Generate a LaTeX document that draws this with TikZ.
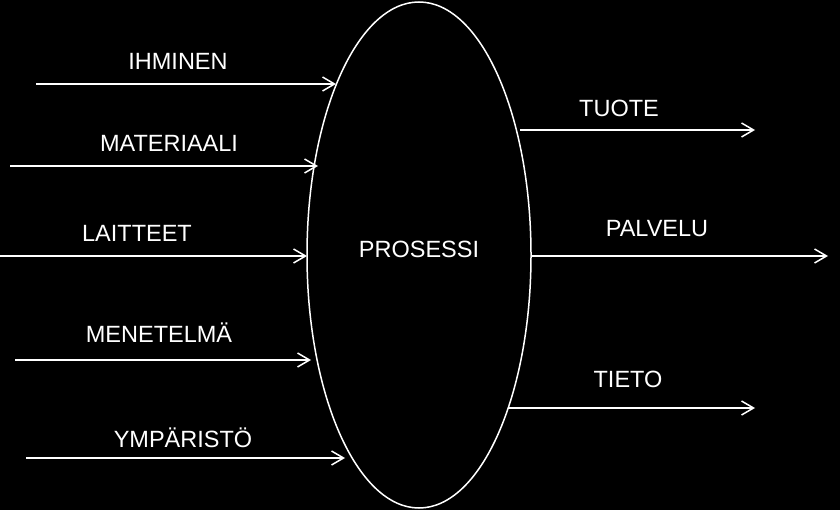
\documentclass[tikz,border=0pt]{standalone}
\usepackage{fontspec}
\setmainfont{Liberation Sans}
\usetikzlibrary{arrows.meta,shapes.geometric}
\begin{document}
\begin{tikzpicture}[x=1pt,y=-1pt,
  flow/.style={draw=white,line width=1.5pt,-{Straight Barb[length=12pt,width=14pt,line width=1.5pt]}},
  lbl/.style={text=white,font=\fontsize{23.5}{26}\selectfont,inner sep=0pt}]
\fill[black] (0,0) rectangle (840,510);
\useasboundingbox (0,0) rectangle (840,510);
\node[draw=white,line width=1.5pt,ellipse,minimum width=224pt,minimum height=506pt,inner sep=0pt] (p) at (419,255) {};
\node[lbl] at (419,249) {PROSESSI};
\foreach \n/\x/\y/\ex/\lx/\ly/\t in {a/36/84/336/178/61/IHMINEN,b/10/166/318/169/143/MATERIAALI,c/0/256/307/137/233/LAITTEET,d/15/360/311/159/333/MENETELMÄ,e/26/458/345/183/438/YMPÄRISTÖ,f/520/130/755/619/108/TUOTE,g/531/256/828/657/229/PALVELU,h/508/408/755/628/379/TIETO}{
  \coordinate (\n s) at (\x,\y);
  \coordinate (\n t) at (\ex,\y);
  \draw[flow] (\n s) -- (\n t);
  \node[lbl] (\n l) at (\lx,\ly) {\t};
}
\end{tikzpicture}
\end{document}
